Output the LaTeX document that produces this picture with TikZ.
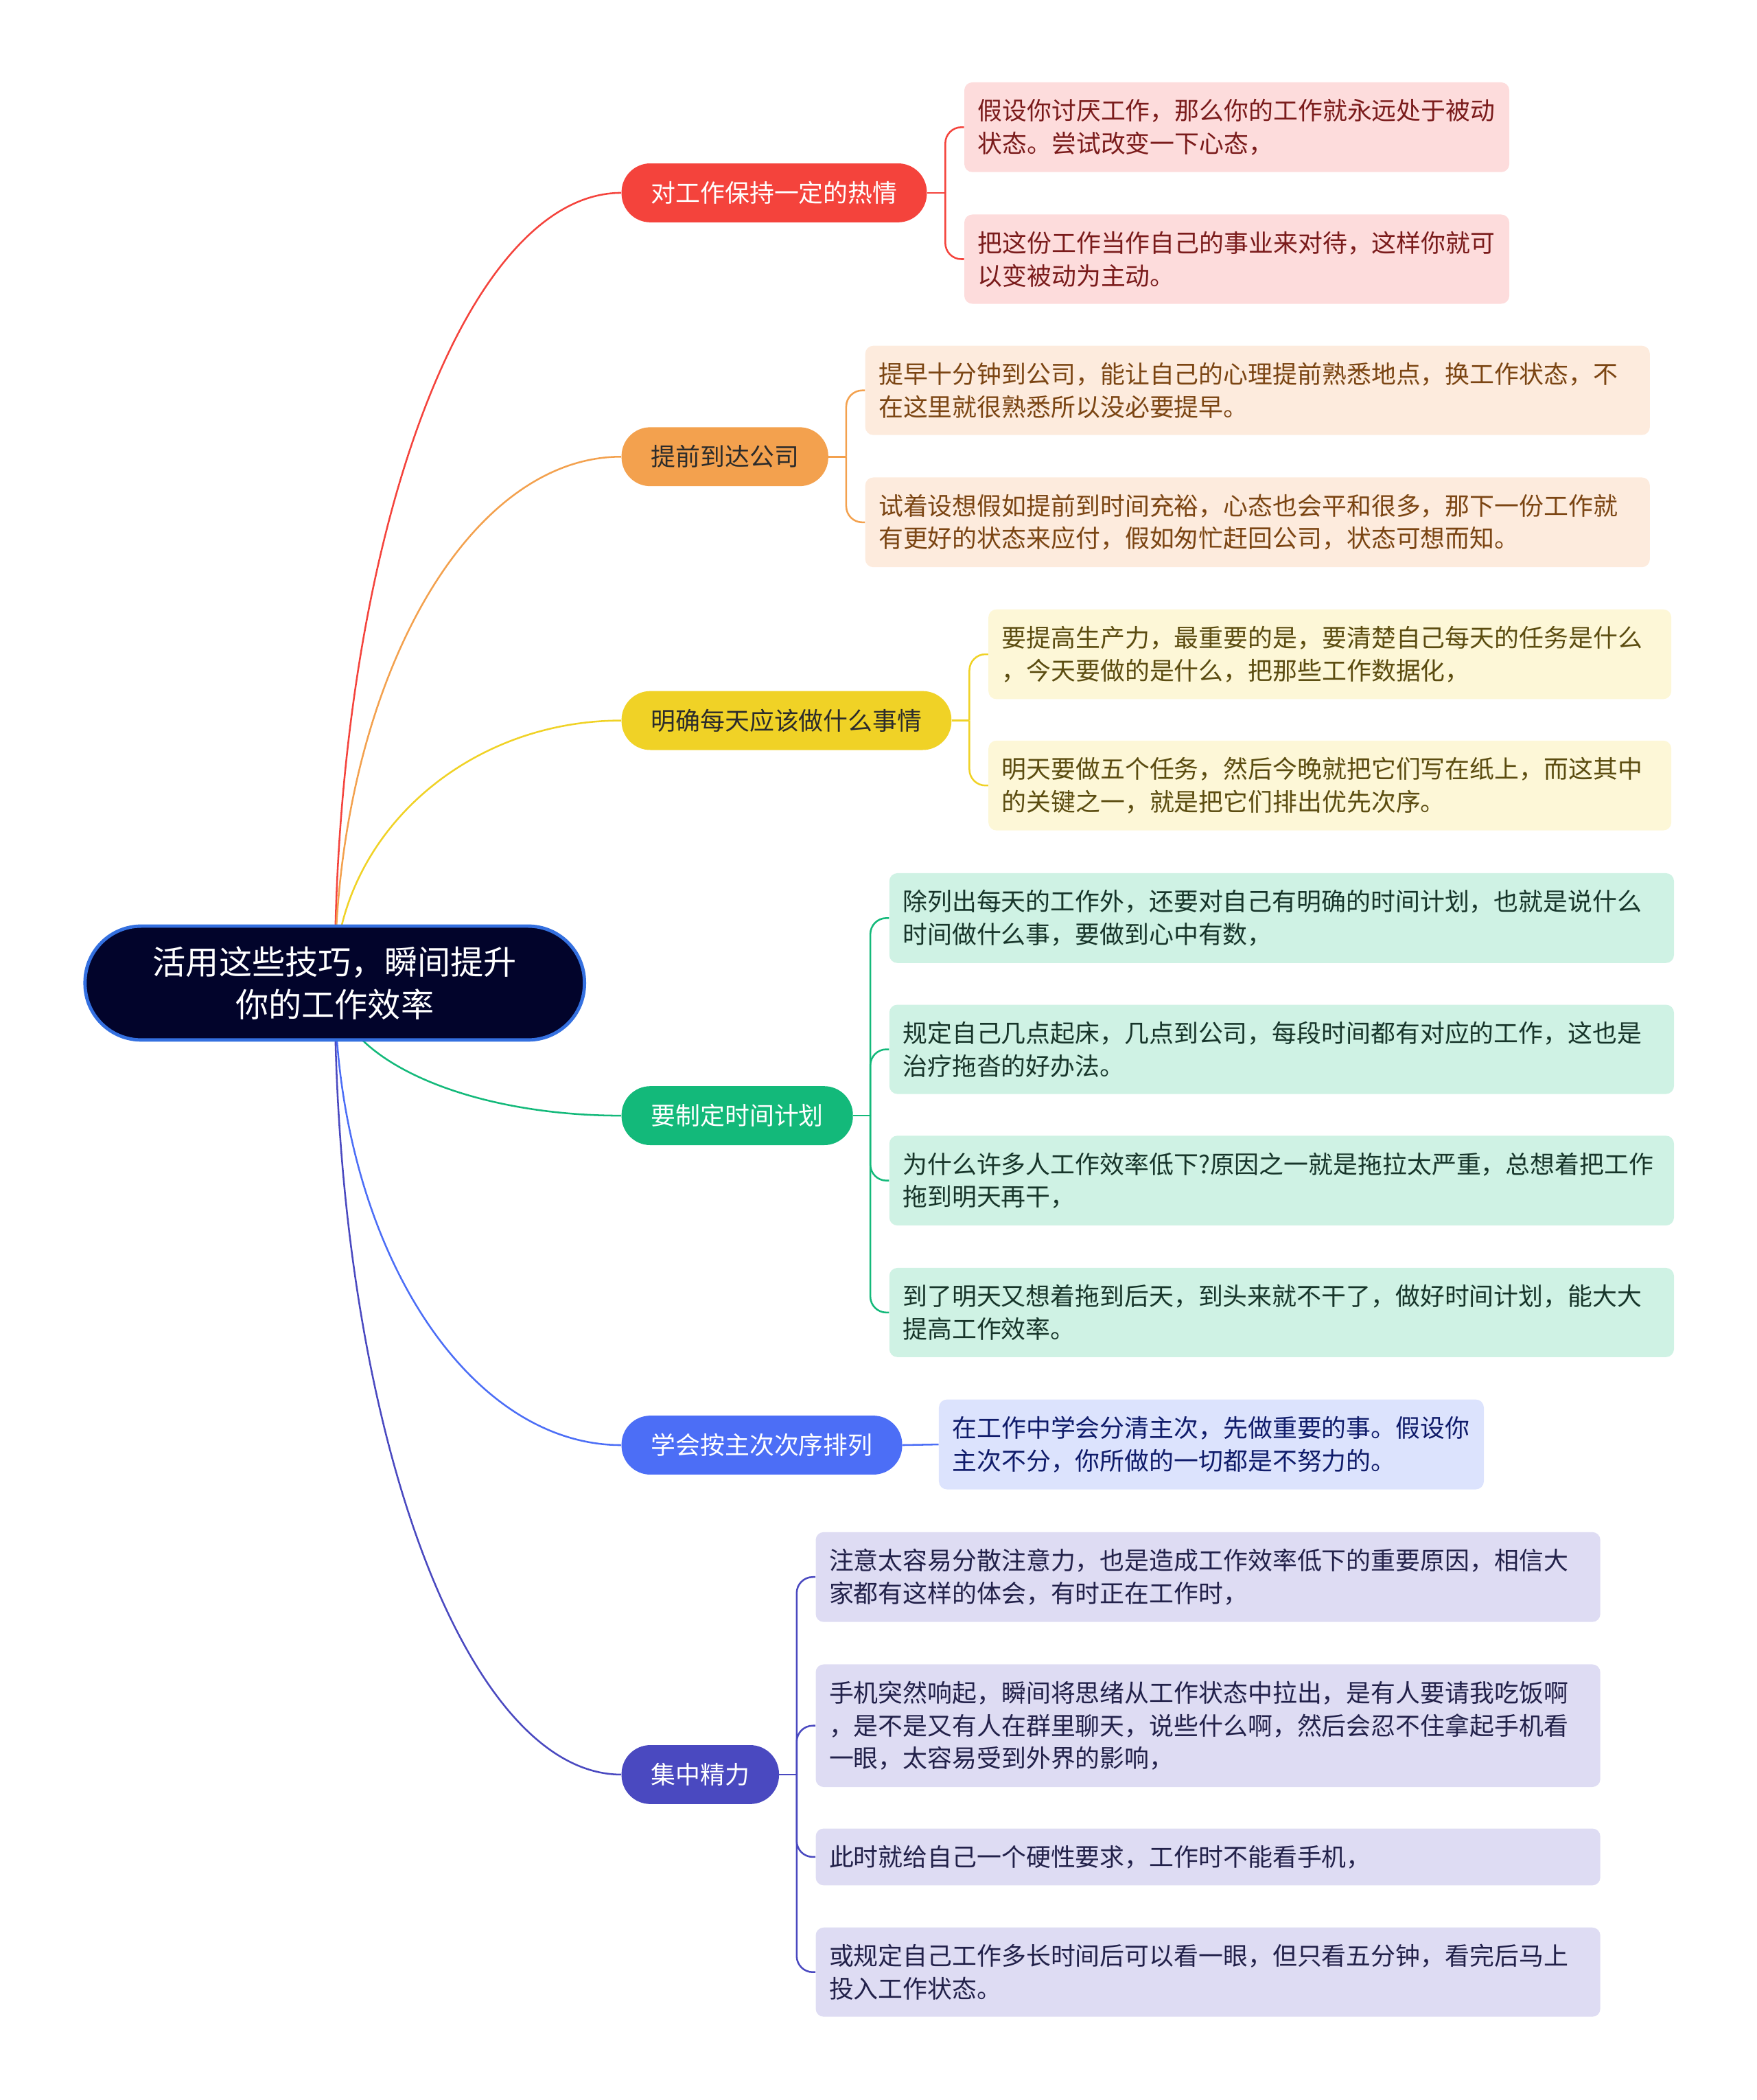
\documentclass[tikz,border=0pt]{standalone}
\usepackage{fontspec}
\setmainfont{Noto Sans CJK SC}
\usetikzlibrary{backgrounds}

\definecolor{rootfill}{HTML}{02042B}
\definecolor{rootline}{HTML}{3470E0}
\definecolor{redB}{HTML}{F4433C}
\definecolor{redL}{HTML}{FDDCDC}
\definecolor{redT}{HTML}{7A1B1B}
\definecolor{orangeB}{HTML}{F3A14E}
\definecolor{orangeL}{HTML}{FDEBDD}
\definecolor{orangeT}{HTML}{7B4513}
\definecolor{yellowB}{HTML}{F0D226}
\definecolor{yellowL}{HTML}{FDF7D7}
\definecolor{yellowT}{HTML}{5B4C10}
\definecolor{greenB}{HTML}{13B97A}
\definecolor{greenL}{HTML}{CFF2E4}
\definecolor{greenT}{HTML}{17352A}
\definecolor{blueB}{HTML}{4C6EF6}
\definecolor{blueL}{HTML}{DCE3FD}
\definecolor{blueT}{HTML}{0F1B6A}
\definecolor{indigoB}{HTML}{4A49C0}
\definecolor{indigoL}{HTML}{DEDCF3}
\definecolor{indigoT}{HTML}{22214A}
\definecolor{darkT}{HTML}{2B2B2B}

\begin{document}
\begin{tikzpicture}[x=1pt, y=-1pt,
  root/.style={draw=rootline, line width=2.5pt, fill=rootfill, text=white,
    rounded corners=42pt, minimum width=373pt, minimum height=85pt,
    align=center, font=\fontsize{24.7}{32}\selectfont},
  branch/.style={fill=#1, rounded corners=21.5pt, minimum height=44pt,
    inner xsep=22pt, inner ysep=0pt, anchor=west, text=white,
    font=\fontsize{18.4}{22}\selectfont},
  leaf/.style={rounded corners=6pt, inner xsep=10pt, inner ysep=12.5pt,
    anchor=west, align=left, text width=#1,
    font=\fontsize{18.4}{24.5}\selectfont},
  link/.style={draw=#1, line width=1.3pt},
  fork/.style={draw=#1, line width=1.3pt, rounded corners=12pt}]

  \useasboundingbox (0,0) rectangle (1312,1568);

  % ---------------- centre ----------------
  \node[root] (root) at (250,734) {活用这些技巧，瞬间提升\\你的工作效率};

  % ---------------- (1) red ----------------
  \node[branch=redB] (b1) at (464,144) {对工作保持一定的热情};
  \node[leaf=387pt, fill=redL, text=redT] (l1a) at (720,95)
    {假设你讨厌工作，那么你的工作就永远处于被动\\状态。尝试改变一下心态，};
  \node[leaf=387pt, fill=redL, text=redT] (l1b) at (720,193.5)
    {把这份工作当作自己的事业来对待，这样你就可\\以变被动为主动。};

  % ---------------- (2) orange ----------------
  \node[branch=orangeB, text=darkT] (b2) at (464,341) {提前到达公司};
  \node[leaf=566pt, fill=orangeL, text=orangeT] (l2a) at (646,291.5)
    {提早十分钟到公司，能让自己的心理提前熟悉地点，换工作状态，不\\在这里就很熟悉所以没必要提早。};
  \node[leaf=566pt, fill=orangeL, text=orangeT] (l2b) at (646,390)
    {试着设想假如提前到时间充裕，心态也会平和很多，那下一份工作就\\有更好的状态来应付，假如匆忙赶回公司，状态可想而知。};

  % ---------------- (3) yellow ----------------
  \node[branch=yellowB, text=darkT] (b3) at (464,538) {明确每天应该做什么事情};
  \node[leaf=490pt, fill=yellowL, text=yellowT] (l3a) at (738,488.5)
    {要提高生产力，最重要的是，要清楚自己每天的任务是什么\\，今天要做的是什么，把那些工作数据化，};
  \node[leaf=490pt, fill=yellowL, text=yellowT] (l3b) at (738,586.5)
    {明天要做五个任务，然后今晚就把它们写在纸上，而这其中\\的关键之一，就是把它们排出优先次序。};

  % ---------------- (4) green ----------------
  \node[branch=greenB] (b4) at (464,833) {要制定时间计划};
  \node[leaf=566pt, fill=greenL, text=greenT] (l4a) at (664,685.5)
    {除列出每天的工作外，还要对自己有明确的时间计划，也就是说什么\\时间做什么事，要做到心中有数，};
  \node[leaf=566pt, fill=greenL, text=greenT] (l4b) at (664,783.5)
    {规定自己几点起床，几点到公司，每段时间都有对应的工作，这也是\\治疗拖沓的好办法。};
  \node[leaf=566pt, fill=greenL, text=greenT] (l4c) at (664,881.5)
    {为什么许多人工作效率低下?原因之一就是拖拉太严重，总想着把工作\\拖到明天再干，};
  \node[leaf=566pt, fill=greenL, text=greenT] (l4d) at (664,980)
    {到了明天又想着拖到后天，到头来就不干了，做好时间计划，能大大\\提高工作效率。};

  % ---------------- (5) blue ----------------
  \node[branch=blueB] (b5) at (464,1079) {学会按主次次序排列};
  \node[leaf=387pt, fill=blueL, text=blueT] (l5a) at (701,1078.5)
    {在工作中学会分清主次，先做重要的事。假设你\\主次不分，你所做的一切都是不努力的。};

  % ---------------- (6) indigo ----------------
  \node[branch=indigoB] (b6) at (464,1325) {集中精力};
  \node[leaf=566pt, fill=indigoL, text=indigoT] (l6a) at (609,1177.5)
    {注意太容易分散注意力，也是造成工作效率低下的重要原因，相信大\\家都有这样的体会，有时正在工作时，};
  \node[leaf=566pt, fill=indigoL, text=indigoT] (l6b) at (609,1288.5)
    {手机突然响起，瞬间将思绪从工作状态中拉出，是有人要请我吃饭啊\\，是不是又有人在群里聊天，说些什么啊，然后会忍不住拿起手机看\\一眼，太容易受到外界的影响，};
  \node[leaf=566pt, fill=indigoL, text=indigoT] (l6c) at (609,1386.5)
    {此时就给自己一个硬性要求，工作时不能看手机，};
  \node[leaf=566pt, fill=indigoL, text=indigoT] (l6d) at (609,1472.5)
    {或规定自己工作多长时间后可以看一眼，但只看五分钟，看完后马上\\投入工作状态。};

  % the junctions of the forks, just left of the leaves
  \coordinate (j1) at ([xshift=-14pt]l1a.west |- b1.east);
  \coordinate (j2) at ([xshift=-14pt]l2a.west |- b2.east);
  \coordinate (j3) at ([xshift=-14pt]l3a.west |- b3.east);
  \coordinate (j4) at ([xshift=-14pt]l4a.west |- b4.east);
  \coordinate (j6) at ([xshift=-14pt]l6a.west |- b6.east);

  \begin{scope}[on background layer]
    % centre to branches: quarter-ellipse curves hidden under the centre
    \draw[link=redB]    (root.center) .. controls +(0,-326) and +(-118,0) .. (b1.west);
    \draw[link=orangeB] (root.center) .. controls +(0,-217) and +(-118,0) .. (b2.west);
    \draw[link=yellowB] (root.center) .. controls +(0,-108) and +(-118,0) .. (b3.west);
    \draw[link=greenB]  (root.center) .. controls +(0,55)   and +(-118,0) .. (b4.west);
    \draw[link=blueB]   (root.center) .. controls +(0,190)  and +(-118,0) .. (b5.west);
    \draw[link=indigoB] (root.center) .. controls +(0,326)  and +(-118,0) .. (b6.west);

    % branches to leaves
    \draw[link=redB] (b1.east) -- (j1);
    \draw[fork=redB] (j1) |- (l1a.west);
    \draw[fork=redB] (j1) |- (l1b.west);
    \draw[link=orangeB] (b2.east) -- (j2);
    \draw[fork=orangeB] (j2) |- (l2a.west);
    \draw[fork=orangeB] (j2) |- (l2b.west);
    \draw[link=yellowB] (b3.east) -- (j3);
    \draw[fork=yellowB] (j3) |- (l3a.west);
    \draw[fork=yellowB] (j3) |- (l3b.west);
    \draw[link=greenB] (b4.east) -- (j4);
    \draw[fork=greenB] (j4) |- (l4a.west);
    \draw[fork=greenB] (j4) |- (l4b.west);
    \draw[fork=greenB] (j4) |- (l4c.west);
    \draw[fork=greenB] (j4) |- (l4d.west);
    \draw[link=blueB] (b5.east) -- (l5a.west);
    \draw[link=indigoB] (b6.east) -- (j6);
    \draw[fork=indigoB] (j6) |- (l6a.west);
    \draw[fork=indigoB] (j6) |- (l6b.west);
    \draw[fork=indigoB] (j6) |- (l6c.west);
    \draw[fork=indigoB] (j6) |- (l6d.west);
  \end{scope}

\end{tikzpicture}
\end{document}
